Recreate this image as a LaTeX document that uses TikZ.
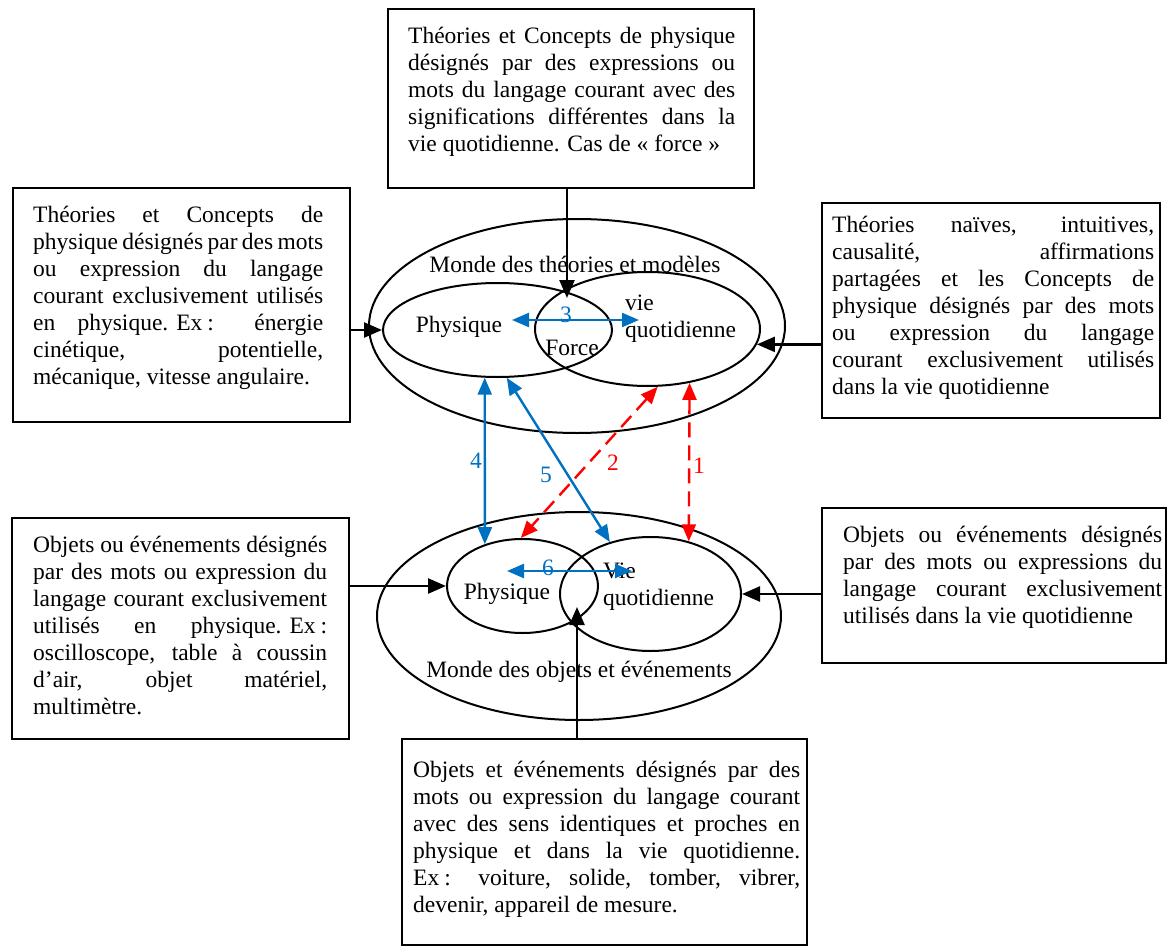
\documentclass[tikz,border=0pt]{standalone}
\usepackage{fontspec}
\setmainfont{Liberation Serif}
\usetikzlibrary{arrows.meta,shapes.geometric}
\definecolor{myblue}{RGB}{0,112,192}
\newcommand\JL[1]{\hbox to\hsize{\strut#1}}
\newcommand\LL[1]{\hbox{\strut#1}}
\begin{document}
\begin{tikzpicture}[x=1pt,y=-1pt,
  font=\fontsize{23.5pt}{27pt}\selectfont,
  box/.style={draw, line width=2pt, rectangle, inner sep=0pt},
  ell/.style={draw, ellipse, line width=2pt, inner sep=0pt},
  txt/.style={inner sep=0pt, anchor=north west},
  lbl/.style={inner sep=0pt, anchor=base},
  conn/.style={line width=2.4pt, -{Triangle[length=18pt,width=15pt]}},
  bconn/.style={line width=2.4pt, myblue, {Triangle[length=17pt,width=14pt]}-{Triangle[length=17pt,width=14pt]}},
  rconn/.style={line width=2.4pt, red, dash pattern=on 15pt off 8pt, {Triangle[length=17pt,width=14pt]}-{Triangle[length=17pt,width=14pt]}}
]
\useasboundingbox (0,0) rectangle (1167,947);

% boxes
\node[box, minimum width=366pt, minimum height=179pt] (T) at (571,98.5) {};
\node[box, minimum width=337pt, minimum height=234pt] (L1) at (181.5,305) {};
\node[box, minimum width=338pt, minimum height=215pt] (R1) at (991,310.5) {};
\node[box, minimum width=337pt, minimum height=221pt] (L2) at (180.5,628.5) {};
\node[box, minimum width=344pt, minimum height=155pt] (R2) at (994,585.5) {};
\node[box, minimum width=405pt, minimum height=206pt] (B) at (604.5,842) {};

% box texts
\node[txt] (Ttxt) at (408,24.1) {\vbox{\hsize=327pt
  \JL{Théories et Concepts de physique}
  \JL{désignés par des expressions ou}
  \JL{mots du langage courant avec des}
  \JL{significations différentes dans la}
  \LL{vie quotidienne. Cas de «~force~»}}};
\node[txt] (L1txt) at (33,203.1) {\vbox{\hsize=290pt
  \JL{Théories et Concepts de}
  \JL{physique désignés par des mots}
  \JL{ou expression du langage}
  \JL{courant exclusivement utilisés}
  \JL{en physique.\hskip 8pt Ex\kern5pt: énergie}
  \JL{cinétique, potentielle,}
  \LL{mécanique, vitesse angulaire.}}};
\node[txt] (R1txt) at (832,213.1) {\vbox{\hsize=322pt
  \JL{Théories naïves, intuitives,}
  \JL{causalité, affirmations}
  \JL{partagées et les Concepts de}
  \JL{physique désignés par des mots}
  \JL{ou expression du langage}
  \JL{courant exclusivement utilisés}
  \LL{dans la vie quotidienne}}};
\node[txt] (L2txt) at (33,533.1) {\vbox{\hsize=294pt
  \JL{Objets ou événements désignés}
  \JL{par des mots ou expression du}
  \JL{langage courant exclusivement}
  \JL{utilisés en physique.\hskip 8pt Ex\kern5pt:}
  \JL{oscilloscope, table à coussin}
  \JL{d’air, objet matériel,}
  \LL{multimètre.}}};
\node[txt] (R2txt) at (843,523.1) {\vbox{\hsize=319pt
  \JL{Objets ou événements désignés}
  \JL{par des mots ou expressions du}
  \JL{langage courant exclusivement}
  \LL{utilisés dans la vie quotidienne}}};
\node[txt] (Btxt) at (413,758.1) {\vbox{\hsize=387pt
  \JL{Objets et événements désignés par des}
  \JL{mots ou expression du langage courant}
  \JL{avec des sens identiques et proches en}
  \JL{physique et dans la vie quotidienne.}
  \JL{Ex\kern5pt: voiture, solide, tomber, vibrer,}
  \LL{devenir, appareil de mesure.}}};

% ellipses
\node[ell, minimum width=416pt, minimum height=214pt] (tOut) at (577,326) {};
\node[ell, minimum width=229pt, minimum height=94pt] (tPhys) at (497.5,330) {};
\node[ell, minimum width=225pt, minimum height=114pt] (tVie) at (647.5,329) {};
\node[ell, minimum width=404pt, minimum height=208pt] (bOut) at (579,616) {};
\node[ell, minimum width=151pt, minimum height=94pt] (bPhys) at (522.5,586) {};
\node[ell, minimum width=181pt, minimum height=114pt] (bVie) at (650.5,594) {};

% labels
\node[lbl] (tMonde) at (575,272) {Monde des théories et modèles};
\node[lbl] (tPhysL) at (459,332) {Physique};
\node[txt] (tVieL) at (625,291.1) {\vbox{\LL{vie}\LL{quotidienne}}};
\node[lbl] (tForce) at (572,355) {Force};
\node[lbl, myblue] (n3) at (566,322) {3};
\node[lbl, myblue] (n4) at (476,468) {4};
\node[lbl, myblue] (n5) at (546,482) {5};
\node[lbl, red] (n2) at (613,470) {2};
\node[lbl, red] (n1) at (699,473) {1};
\node[lbl, myblue] (n6) at (548,575) {6};
\node[lbl] (bPhysL) at (507,599) {Physique};
\node[txt] (bVieL) at (603,559.1) {\vbox{\LL{Vie}\LL{quotidienne}}};
\node[lbl] (bMonde) at (579,677) {Monde des objets et événements};

% coordinates for free ends
\coordinate (cTop) at (567,298);
\coordinate (cBot) at (577,607);
\coordinate (a3l) at (512,320);
\coordinate (a3r) at (639,320);
\coordinate (a6l) at (507,571);
\coordinate (a6r) at (632,571);

% black connectors
\draw[conn] (T.south -| cTop) -- (cTop);
\draw[conn] (L1.east |- tPhys.west) -- (tPhys.west);
\draw[conn] (R1.west |- tVie.-8.5) -- (tVie.-8.5);
\draw[conn] (L2.east |- bPhys.west) -- (bPhys.west);
\draw[conn] (R2.west |- bVie.east) -- (bVie.east);
\draw[conn] (B.north -| cBot) -- (cBot);

% blue connectors
\draw[bconn] (a3l) -- (a3r);
\draw[bconn] (a6l) -- (a6r);
\draw[bconn] (tPhys.-105) -- (bPhys.132.4);
\draw[bconn] (tPhys.-79.7) -- (bVie.128.3);

% red dashed connectors
\draw[rconn] (tVie.-80.5) -- (bPhys.92);
\draw[rconn] (tVie.-52.7) -- (bVie.54.2);
\end{tikzpicture}
\end{document}
